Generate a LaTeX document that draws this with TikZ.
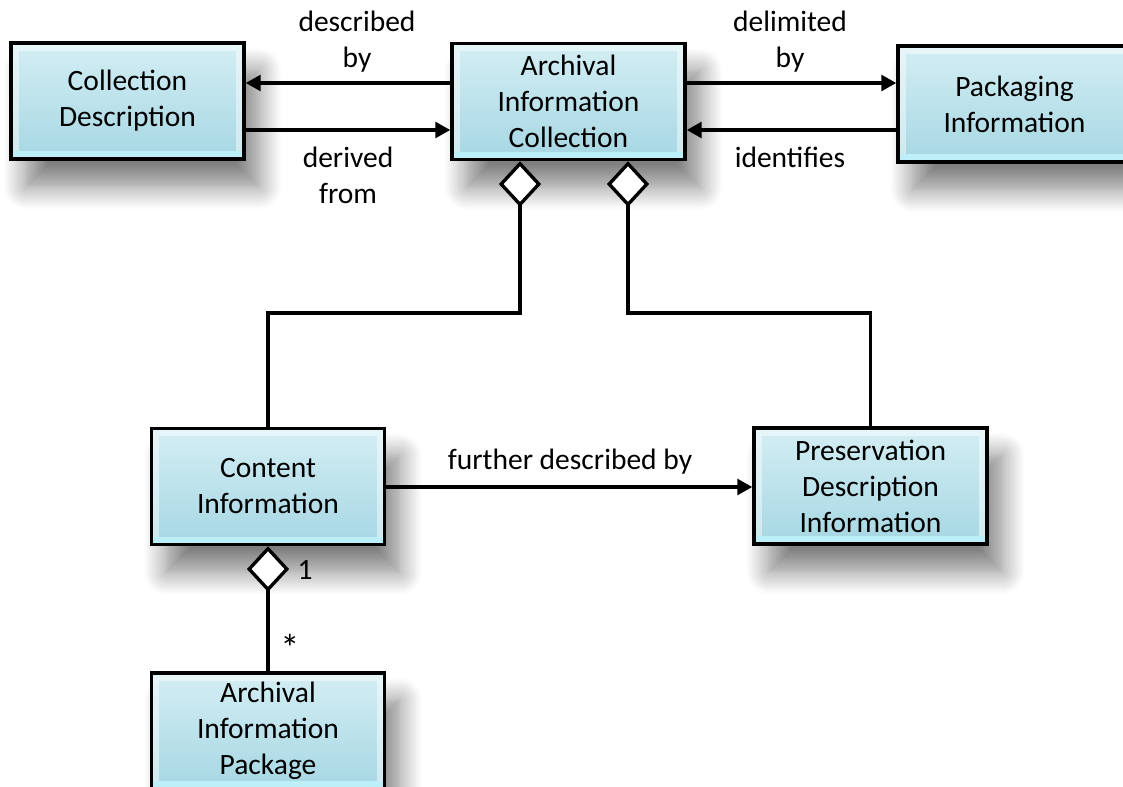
\documentclass[tikz,border=0pt]{standalone}
\usepackage{fontspec}
\setmainfont{Carlito}
\usetikzlibrary{arrows.meta,shadows.blur,positioning}
\definecolor{boxtop}{HTML}{D4EEF4}
\definecolor{boxbot}{HTML}{A6D7E3}
\definecolor{bevel}{HTML}{BCEFF8}

\tikzset{
  oaisbox/.style={draw=black, line width=2pt, minimum width=4.66cm, minimum height=2.32cm,
    align=center, top color=boxtop, bottom color=boxbot,
    font=\fontsize{16.8}{20.5}\selectfont,
    blur shadow={shadow xshift=0.3cm, shadow yshift=-0.55cm, shadow blur radius=0.45cm, shadow blur steps=12, shadow opacity=50},
    path picture={
      \draw[white, opacity=0.45, line width=9pt] (path picture bounding box.north west) rectangle (path picture bounding box.south east);
      \fill[bevel] ([yshift=4.5pt]path picture bounding box.south west) rectangle (path picture bounding box.south east);
    }},
  lbl/.style={align=center, font=\fontsize{16.8}{20.5}\selectfont, inner sep=0pt},
  rel/.style={line width=1.9pt, -{Triangle[length=8.5pt,width=9pt]}},
  agg/.style={line width=1.9pt, {Diamond[fill=white,length=26pt,width=24pt]}-}
}

\begin{document}
\begin{tikzpicture}[x=0.02cm,y=-0.02cm]
\useasboundingbox (0,0) rectangle (1123,787);
% boxes
\node[oaisbox] (cd) at (127.5,101) {Collection\\Description};
\node[oaisbox] (aic) at (568.5,101.5) {Archival\\Information\\Collection};
\node[oaisbox] (pi) at (1014.5,104) {Packaging\\Information};
\node[oaisbox] (ci) at (268,486.5) {Content\\Information};
\node[oaisbox] (pdi) at (870.5,486) {Preservation\\Description\\Information};
\node[oaisbox] (aip) at (268,731) {Archival\\Information\\Package};
% relations
\draw[rel] (aic.west |- 0,83) -- (cd.east |- 0,83);
\draw[rel] (cd.east |- 0,130) -- (aic.west |- 0,130);
\draw[rel] (aic.east |- 0,83) -- (pi.west |- 0,83);
\draw[rel] (pi.west |- 0,130) -- (aic.east |- 0,130);
\draw[rel] (ci.east |- 0,487) -- (pdi.west |- 0,487);
% aggregations
\draw[agg] (aic.south -| 520,0) -- (520,313) -| (ci.north);
\draw[agg] (aic.south -| 628,0) -- (628,313) -| (pdi.north);
\draw[agg] (ci.south) -- (aip.north);
% labels
\node[lbl] (lDesc) at (357,42) {described\\by};
\node[lbl] (lDeriv) at (348,175) {derived\\from};
\node[lbl] (lDelim) at (790,42) {delimited\\by};
\node[lbl] (lIdent) at (790,157) {identifies};
\node[lbl] (lFurther) at (570,462) {further described by};
\node[lbl] (lOne) at (305,570) {1};
\node[lbl, scale=1.3] (lMany) at (290,648) {*};
\end{tikzpicture}
\end{document}
